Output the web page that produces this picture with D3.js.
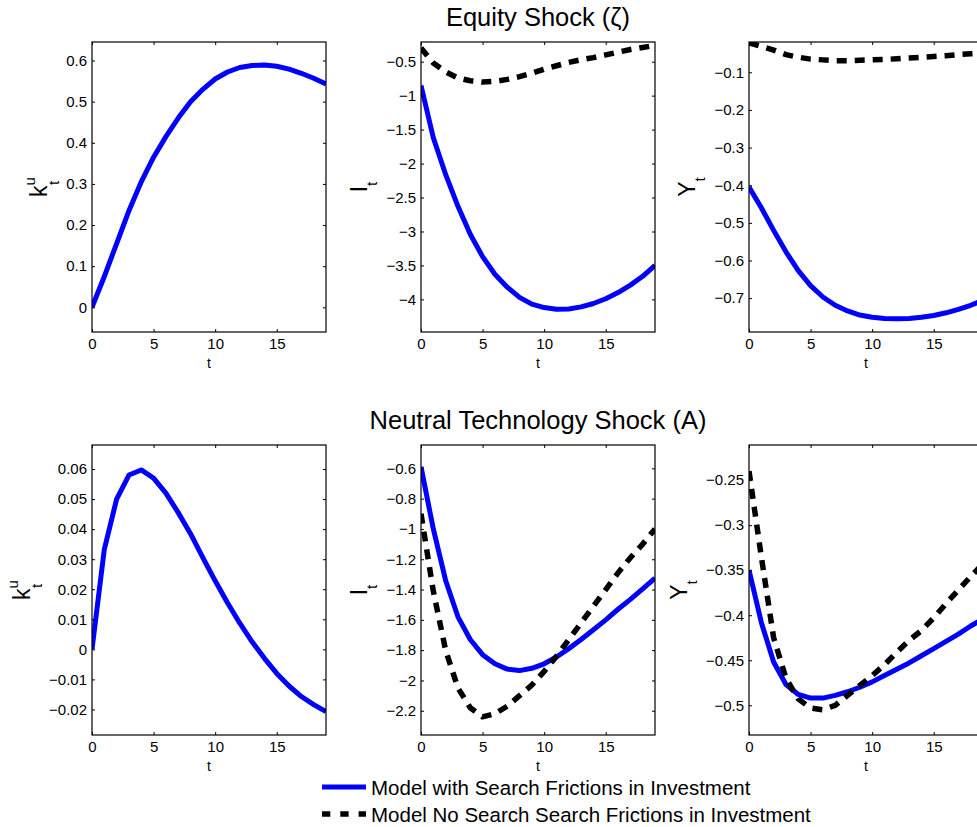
<!DOCTYPE html>
<html lang="en">
<head>
<meta charset="UTF-8">
<title>Impulse responses: equity and neutral technology shocks</title>
<script src="https://d3js.org/d3.v7.min.js"></script>
<style>
    body { margin: 0; background: #fff; }
    svg { display: block; font-family: "Liberation Sans", Arial, Helvetica, sans-serif; }
    .panel-box { fill: none; stroke: #000; stroke-width: 1.2; }
    .tick-label { font-size: 15px; fill: #000; }
    .x-title { font-size: 14px; }
    .y-title { font-size: 23px; }
    .shock-title { font-size: 25.5px; }
    .legend-text { font-size: 20.5px; }
    .solid { fill: none; stroke: #0000ff; stroke-width: 5; stroke-linejoin: round; }
    .dashed { fill: none; stroke: #000; stroke-width: 5.5; stroke-dasharray: 10, 8; }
</style>
</head>
<body>
<svg id="chart" width="977" height="827"></svg>
<script>
// horizon (quarters)
var t = [0, 1, 2, 3, 4, 5, 6, 7, 8, 9, 10, 11, 12, 13, 14, 15, 16, 17, 18, 19];

// Equity shock (zeta)
var equityK = [0, 0.075, 0.155, 0.235, 0.305, 0.365, 0.415, 0.46, 0.5, 0.53, 0.555, 0.572, 0.583, 0.588, 0.589, 0.586, 0.579, 0.569, 0.557, 0.543];
var equityI = [-0.85, -1.62, -2.16, -2.63, -3.04, -3.37, -3.63, -3.82, -3.97, -4.07, -4.12, -4.145, -4.14, -4.11, -4.06, -3.99, -3.9, -3.79, -3.66, -3.5];
var equityINoSearch = [-0.3, -0.52, -0.65, -0.74, -0.78, -0.8, -0.79, -0.76, -0.72, -0.67, -0.61, -0.56, -0.51, -0.47, -0.44, -0.4, -0.36, -0.32, -0.29, -0.26];
var equityY = [-0.405, -0.46, -0.52, -0.577, -0.627, -0.667, -0.697, -0.719, -0.734, -0.745, -0.751, -0.754, -0.755, -0.754, -0.751, -0.746, -0.739, -0.73, -0.719, -0.706];
var equityYNoSearch = [-0.022, -0.031, -0.041, -0.053, -0.06, -0.065, -0.067, -0.069, -0.069, -0.068, -0.067, -0.066, -0.064, -0.062, -0.06, -0.058, -0.056, -0.053, -0.051, -0.049];

// Neutral technology shock (A)
var neutralK = [0, 0.0333, 0.05, 0.058, 0.0597, 0.057, 0.052, 0.0455, 0.0385, 0.0305, 0.0228, 0.0155, 0.0087, 0.0025, -0.003, -0.008, -0.0122, -0.0157, -0.0184, -0.0207];
var neutralI = [-0.59, -1.0, -1.34, -1.58, -1.73, -1.83, -1.89, -1.925, -1.935, -1.92, -1.89, -1.845, -1.79, -1.73, -1.665, -1.6, -1.53, -1.465, -1.395, -1.325];
var neutralINoSearch = [-0.9, -1.41, -1.8, -2.05, -2.18, -2.24, -2.22, -2.17, -2.1, -2.03, -1.94, -1.84, -1.73, -1.62, -1.51, -1.4, -1.29, -1.19, -1.1, -1.0];
var neutralY = [-0.35, -0.408, -0.452, -0.477, -0.488, -0.492, -0.492, -0.489, -0.485, -0.48, -0.474, -0.467, -0.46, -0.453, -0.445, -0.437, -0.429, -0.421, -0.412, -0.404];
var neutralYNoSearch = [-0.24, -0.335, -0.425, -0.47, -0.493, -0.503, -0.505, -0.5, -0.489, -0.478, -0.467, -0.455, -0.441, -0.428, -0.417, -0.403, -0.387, -0.372, -0.357, -0.343];

// tick labels
var xTicks = [0, 5, 10, 15];
var equityKTicks = [0, 0.1, 0.2, 0.3, 0.4, 0.5, 0.6];
var equityITicks = [-4, -3.5, -3, -2.5, -2, -1.5, -1, -0.5];
var equityYTicks = [-0.7, -0.6, -0.5, -0.4, -0.3, -0.2, -0.1];
var neutralKTicks = [-0.02, -0.01, 0, 0.01, 0.02, 0.03, 0.04, 0.05, 0.06];
var neutralITicks = [-2.2, -2, -1.8, -1.6, -1.4, -1.2, -1, -0.8, -0.6];
var neutralYTicks = [-0.5, -0.45, -0.4, -0.35, -0.3, -0.25];

var shockTitles = ["Equity Shock (\u03b6)", "Neutral Technology Shock (A)"];
var legendLabels = ["Model with Search Frictions in Investment", "Model No Search Search Frictions in Investment"];

// layout
var colLeft = [92, 421, 749];
var rowTop = [42, 445];
var pw = 234, ph = 290;

var panels = [
    {col: 0, row: 0, name: "k", sup: "u", yDomain: [-0.06, 0.645], ticks: equityKTicks, solid: equityK, dashed: null},
    {col: 1, row: 0, name: "I", yDomain: [-4.48, -0.21], ticks: equityITicks, solid: equityI, dashed: equityINoSearch},
    {col: 2, row: 0, name: "Y", yDomain: [-0.79, -0.0195], ticks: equityYTicks, solid: equityY, dashed: equityYNoSearch},
    {col: 0, row: 1, name: "k", sup: "u", yDomain: [-0.0285, 0.068], ticks: neutralKTicks, solid: neutralK, dashed: null},
    {col: 1, row: 1, name: "I", yDomain: [-2.36, -0.446], ticks: neutralITicks, solid: neutralI, dashed: neutralINoSearch},
    {col: 2, row: 1, name: "Y", yDomain: [-0.533, -0.211], ticks: neutralYTicks, solid: neutralY, dashed: neutralYNoSearch}
];

var svg = d3.select("#chart");
svg.append("rect").attr("width", 977).attr("height", 827).attr("fill", "#fff");

var fmt = d3.format("~g");

panels.forEach(function (p, i) {
    var left = colLeft[p.col], top = rowTop[p.row];
    var g = svg.append("g").attr("transform", "translate(" + left + "," + top + ")");

    var x = d3.scaleLinear().domain([0, 19]).range([0, pw]);
    var y = d3.scaleLinear().domain(p.yDomain).range([ph, 0]);

    g.append("clipPath").attr("id", "clip" + i)
        .append("rect").attr("width", pw).attr("height", ph);

    var line = d3.line()
        .x(function (d, j) { return x(t[j]); })
        .y(function (d) { return y(d); });

    var plot = g.append("g").attr("clip-path", "url(#clip" + i + ")");
    plot.append("path").datum(p.solid).attr("class", "solid").attr("d", line);
    if (p.dashed) {
        plot.append("path").datum(p.dashed).attr("class", "dashed").attr("d", line);
    }

    // inward ticks on all four sides, like a boxed matlab axes
    g.append("g").attr("transform", "translate(0," + ph + ")")
        .call(d3.axisBottom(x).tickValues(xTicks).tickSize(-3).tickPadding(6).tickFormat(fmt));
    g.append("g")
        .call(d3.axisTop(x).tickValues(xTicks).tickSize(-3).tickFormat(""));
    var leftAxis = g.append("g")
        .call(d3.axisLeft(y).tickValues(p.ticks).tickSize(-3).tickPadding(5).tickFormat(fmt));
    g.append("g").attr("transform", "translate(" + pw + ",0)")
        .call(d3.axisRight(y).tickValues(p.ticks).tickSize(-3).tickFormat(""));

    g.selectAll(".domain").remove();
    g.selectAll(".tick line").attr("stroke", "#000");
    g.selectAll(".tick text").attr("class", "tick-label")
        .attr("font-size", null).attr("font-family", null).attr("fill", "#000");

    g.append("rect").attr("class", "panel-box").attr("width", pw).attr("height", ph);

    g.append("text").attr("class", "x-title")
        .attr("x", pw / 2).attr("y", ph + 36)
        .attr("text-anchor", "middle")
        .text("t");

    // y label goes left of the widest tick label
    var maxW = 0;
    leftAxis.selectAll("text").each(function () {
        maxW = Math.max(maxW, this.getBBox().width);
    });
    var lx = -5 - maxW - 19;
    var yl = g.append("text").attr("class", "y-title")
        .attr("text-anchor", "middle")
        .attr("transform", "translate(" + lx + "," + (ph / 2) + ") rotate(-90)");
    yl.append("tspan").text(p.name);
    if (p.sup) {
        yl.append("tspan").attr("font-size", 15).attr("dy", -12).text(p.sup);
        yl.append("tspan").attr("font-size", 15).attr("dx", -8).attr("dy", 24).text("t");
    } else {
        yl.append("tspan").attr("font-size", 15).attr("dy", 10).text("t");
    }
});

// shock titles above each row
shockTitles.forEach(function (s, r) {
    svg.append("text").attr("class", "shock-title")
        .attr("x", colLeft[1] + pw / 2)
        .attr("y", rowTop[r] - 16)
        .attr("text-anchor", "middle")
        .text(s);
});

// legend
var legend = svg.append("g").attr("transform", "translate(322,787)");
legendLabels.forEach(function (lab, i) {
    var row = legend.append("g").attr("transform", "translate(0," + (i * 27) + ")");
    row.append("line")
        .attr("class", i === 0 ? "solid" : "dashed")
        .attr("x1", 0).attr("x2", 44).attr("y1", 0).attr("y2", 0)
        .style("stroke-dasharray", i === 0 ? null : "8.3,10");
    row.append("text").attr("class", "legend-text")
        .attr("x", 49).attr("y", 7.5)
        .text(lab);
});
</script>
</body>
</html>
